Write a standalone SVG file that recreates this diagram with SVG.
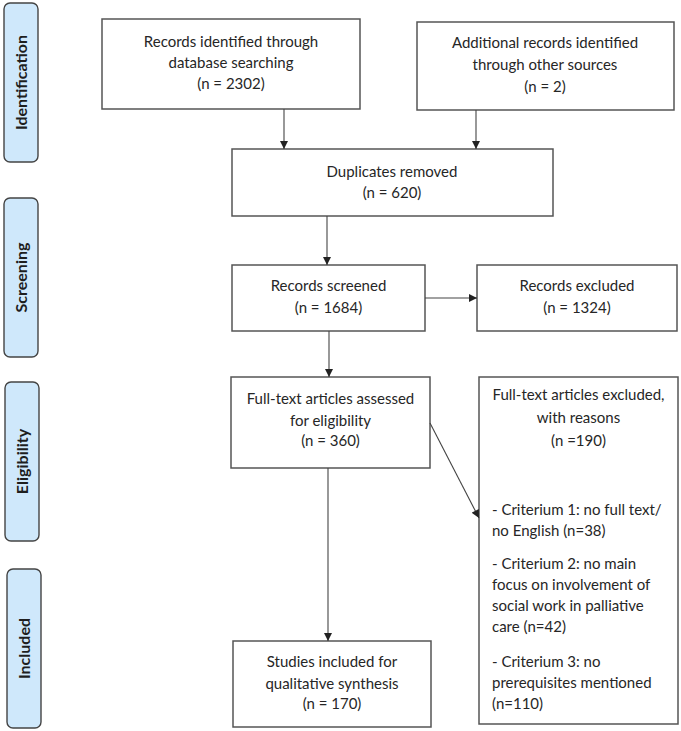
<svg xmlns="http://www.w3.org/2000/svg" width="681" height="731" viewBox="0 0 681 731">
<defs>
<marker id="ah" viewBox="0 0 10 10" refX="10" refY="5" markerWidth="9" markerHeight="8" markerUnits="userSpaceOnUse" orient="auto">
<path d="M0,0 L10,5 L0,10 z" fill="#222"/>
</marker>
</defs>
<style>
.box{fill:#fff;stroke:#555;stroke-width:1.5}
.lab{fill:#cfe8fb;stroke:#444;stroke-width:1.4}
.t{font-family:Lato,"Liberation Sans",sans-serif;font-size:15px;fill:#262626;text-anchor:middle}
.tl{font-family:Lato,"Liberation Sans",sans-serif;font-size:15px;fill:#262626}
.lt{font-family:Lato,"Liberation Sans",sans-serif;font-size:16px;font-weight:bold;fill:#1e1e1e;text-anchor:middle}
.c{fill:none;stroke:#444;stroke-width:1.1;marker-end:url(#ah)}
</style>
<rect width="681" height="731" fill="#fff"/>
<g id="label-identification"><rect class="lab" x="4" y="3" width="34" height="159" rx="6"/><text class="lt" transform="translate(27,82.5) rotate(-90)">Identification</text></g>
<g id="label-screening"><rect class="lab" x="4" y="198" width="34" height="159" rx="6"/><text class="lt" transform="translate(27,277.5) rotate(-90)">Screening</text></g>
<g id="label-eligibility"><rect class="lab" x="5" y="382" width="34" height="159" rx="6"/><text class="lt" transform="translate(28,461.5) rotate(-90)">Eligibility</text></g>
<g id="label-included"><rect class="lab" x="7" y="569" width="34" height="159" rx="6"/><text class="lt" transform="translate(30,648.5) rotate(-90)">Included</text></g>

<g id="n-db"><rect class="box" x="102" y="19" width="258" height="90"/>
<text class="t" x="231" y="47">Records identified through</text>
<text class="t" x="231" y="68">database searching</text>
<text class="t" x="231" y="89">(n = 2302)</text></g>
<g id="n-other"><rect class="box" x="417" y="22" width="257" height="88"/>
<text class="t" x="545" y="48">Additional records identified</text>
<text class="t" x="545" y="70">through other sources</text>
<text class="t" x="545" y="92">(n = 2)</text></g>
<g id="n-dup"><rect class="box" x="232" y="149" width="321" height="67"/>
<text class="t" x="392" y="177">Duplicates removed</text>
<text class="t" x="392" y="198">(n = 620)</text></g>
<g id="n-screen"><rect class="box" x="232" y="265" width="193" height="66"/>
<text class="t" x="328.5" y="291">Records screened</text>
<text class="t" x="328.5" y="313">(n = 1684)</text></g>
<g id="n-excl"><rect class="box" x="477" y="265" width="200" height="66"/>
<text class="t" x="577" y="291">Records excluded</text>
<text class="t" x="577" y="313">(n = 1324)</text></g>
<g id="n-full"><rect class="box" x="231" y="377" width="199" height="91"/>
<text class="t" x="330.5" y="404">Full-text articles assessed</text>
<text class="t" x="330.5" y="426">for eligibility</text>
<text class="t" x="330.5" y="446">(n = 360)</text></g>
<g id="n-fullex"><rect class="box" x="479" y="377" width="199" height="347"/>
<text class="t" x="578.5" y="400">Full-text articles excluded,</text>
<text class="t" x="578.5" y="423">with reasons</text>
<text class="t" x="578.5" y="446">(n =190)</text>
<text class="tl" x="492" y="515">- Criterium 1: no full text/</text>
<text class="tl" x="492" y="536">no English (n=38)</text>
<text class="tl" x="492" y="569">- Criterium 2: no main</text>
<text class="tl" x="492" y="590">focus on involvement of</text>
<text class="tl" x="492" y="611">social work in palliative</text>
<text class="tl" x="492" y="632">care (n=42)</text>
<text class="tl" x="492" y="667">- Criterium 3: no</text>
<text class="tl" x="492" y="688">prerequisites mentioned</text>
<text class="tl" x="492" y="709">(n=110)</text></g>
<g id="n-incl"><rect class="box" x="233" y="641" width="198" height="86"/>
<text class="t" x="332" y="667">Studies included for</text>
<text class="t" x="332" y="689">qualitative synthesis</text>
<text class="t" x="332" y="709">(n = 170)</text></g>

<g id="connectors">
<line class="c" x1="284" y1="109" x2="284" y2="149"/>
<line class="c" x1="476" y1="110" x2="476" y2="149"/>
<line class="c" x1="327" y1="216" x2="327" y2="265"/>
<line class="c" x1="425" y1="298" x2="477" y2="298"/>
<line class="c" x1="329" y1="331" x2="329" y2="377"/>
<line class="c" x1="328" y1="468" x2="328" y2="641"/>
<line class="c" x1="430" y1="423" x2="479" y2="518"/>
</g>
</svg>
